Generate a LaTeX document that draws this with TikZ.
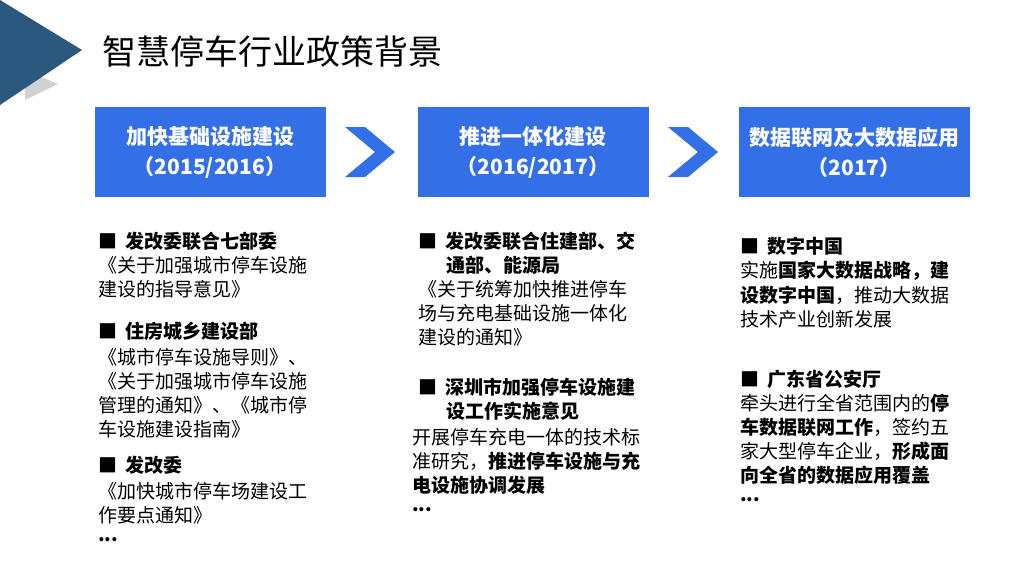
\documentclass[tikz,border=0pt]{standalone}
\usepackage{fontspec}
\setmainfont{Noto Sans CJK SC}
\definecolor{boxblue}{HTML}{3370E8}
\definecolor{tri}{HTML}{2B587F}
\begin{document}
\begin{tikzpicture}[x=1pt,y=-1pt,
  hd/.style={anchor=west,inner sep=0pt,font=\fontsize{19}{20}\selectfont\bfseries},
  tx/.style={anchor=west,inner sep=0pt,font=\fontsize{19}{20}\selectfont},
  bx/.style={fill=boxblue,text=white,minimum width=231,minimum height=90,inner sep=0pt,align=center,font=\fontsize{21}{30}\selectfont\bfseries},
  chev/.style={fill=boxblue}]
\useasboundingbox (0,0) rectangle (1024,574);
\fill[white] (0,0) rectangle (1024,574);
\fill[black!18] (25,70) -- (58,84) -- (25,100) -- cycle;
\fill[tri] (0,0) -- (82,50) -- (0,105) -- cycle;
\node[anchor=west,inner sep=0pt,font=\fontsize{34}{36}\selectfont] (title) at (102,52) {智慧停车行业政策背景};
\node[bx] (b1) at (210,152) {加快基础设施建设\\（2015/2016）};
\node[bx] (b2) at (533,152) {推进一体化建设\\（2016/2017）};
\node[bx] (b3) at (854,152) {数据联网及大数据应用\\（2017）};
\fill[chev] (345,127) -- (365,127) -- (395,152) -- (365,177) -- (345,177) -- (375,152) -- cycle;
\fill[chev] (668,127) -- (688,127) -- (718,152) -- (688,177) -- (668,177) -- (698,152) -- cycle;
% column 1
\node[hd] (a1) at (98,241) {■\ \ 发改委联合七部委};
\node[tx] (a2) at (98,265) {《关于加强城市停车设施};
\node[tx] (a3) at (98,289) {建设的指导意见》};
\node[hd] (a4) at (98,331) {■\ \ 住房城乡建设部};
\node[tx] (a5) at (98,357) {《城市停车设施导则》、};
\node[tx] (a6) at (98,381) {《关于加强城市停车设施};
\node[tx] (a7) at (98,405) {管理的通知》、《城市停};
\node[tx] (a8) at (98,429) {车设施建设指南》};
\node[hd] (a9) at (98,465) {■\ \ 发改委};
\node[tx] (a10) at (98,491) {《加快城市停车场建设工};
\node[tx] (a11) at (98,515) {作要点通知》};
\node[hd] (a12) at (98,540) {...};
% column 2
\node[hd] (c1) at (418,241) {■\ \ 发改委联合住建部、交};
\node[hd] (c2) at (446,265) {通部、能源局};
\node[tx] (c3) at (418,289) {《关于统筹加快推进停车};
\node[tx] (c4) at (418,313) {场与充电基础设施一体化};
\node[tx] (c5) at (418,337) {建设的通知》};
\node[hd] (c6) at (418,387) {■\ \ 深圳市加强停车设施建};
\node[hd] (c7) at (446,411) {设工作实施意见};
\node[tx] (c8) at (412,437) {开展停车充电一体的技术标};
\node[tx] (c9) at (412,461) {准研究，\textbf{推进停车设施与充}};
\node[hd] (c10) at (412,485) {电设施协调发展};
\node[hd] (c11) at (412,510) {...};
% column 3
\node[hd] (d1) at (740,246) {■\ \ 数字中国};
\node[tx] (d2) at (740,271) {实施\textbf{国家大数据战略，建}};
\node[tx] (d3) at (740,295) {\textbf{设数字中国}，推动大数据};
\node[tx] (d4) at (740,319) {技术产业创新发展};
\node[hd] (d5) at (740,379) {■\ \ 广东省公安厅};
\node[tx] (d6) at (740,403) {牵头进行全省范围内的\textbf{停}};
\node[tx] (d7) at (740,427) {\textbf{车数据联网工作}，签约五};
\node[tx] (d8) at (740,451) {家大型停车企业，\textbf{形成面}};
\node[hd] (d9) at (740,475) {向全省的数据应用覆盖};
\node[hd] (d10) at (740,500) {...};
\end{tikzpicture}
\end{document}
